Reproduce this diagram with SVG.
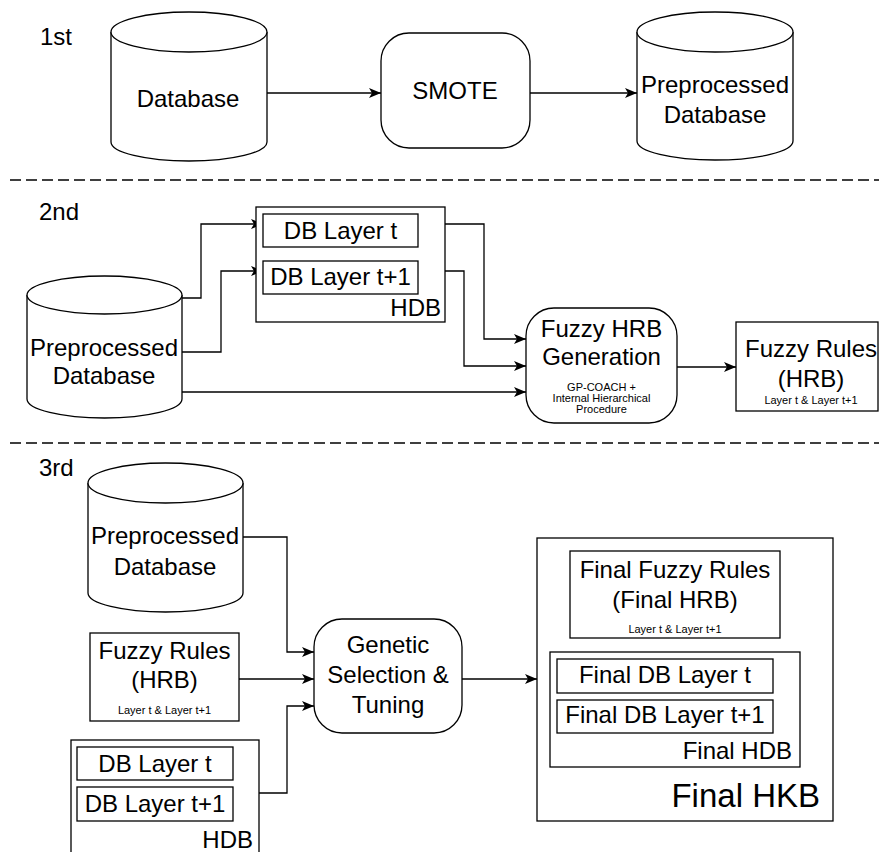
<svg xmlns="http://www.w3.org/2000/svg" width="879" height="852" viewBox="0 0 879 852">
<style>
.s{fill:#fff;stroke:#000;stroke-width:1.3}
.t{font-family:"Liberation Sans",Arial,sans-serif;font-size:24px;fill:#000;text-anchor:middle}
.sm{font-family:"Liberation Sans",Arial,sans-serif;font-size:11px;fill:#000;text-anchor:middle}
.r{text-anchor:end}
.c{fill:none;stroke:#000;stroke-width:1.3}
.d{fill:none;stroke:#000;stroke-width:1.5;stroke-dasharray:11 5}
</style>
<defs>
<marker id="a" markerUnits="userSpaceOnUse" markerWidth="13" markerHeight="11" refX="12" refY="5" orient="auto">
<path d="M0,0 L12,5 L0,10 L3,5 z" fill="#000"/>
</marker>
</defs>
<rect width="879" height="852" fill="#fff"/>
<g id="separators">
<line class="d" x1="10" y1="180" x2="879" y2="180"/>
<line class="d" x1="10" y1="443" x2="879" y2="443"/>
</g>
<g id="labels">
<text class="t" x="40" y="45" style="text-anchor:start">1st</text>
<text class="t" x="39" y="220" style="text-anchor:start">2nd</text>
<text class="t" x="39" y="476" style="text-anchor:start">3rd</text>
</g>
<g id="connectors">
<path class="c" d="M267,93 L381,93" marker-end="url(#a)"/>
<path class="c" d="M530,93 L637,93" marker-end="url(#a)"/>
<path class="c" d="M182,298 L201,298 L201,224 L263,224" marker-end="url(#a)"/>
<path class="c" d="M182,352 L221,352 L221,271 L263,271" marker-end="url(#a)"/>
<path class="c" d="M182,392 L526,392" marker-end="url(#a)"/>
<path class="c" d="M418,224 L484,224 L484,339 L526,339" marker-end="url(#a)"/>
<path class="c" d="M418,271 L464,271 L464,366 L526,366" marker-end="url(#a)"/>
<path class="c" d="M677,367 L736,367" marker-end="url(#a)"/>
<path class="c" d="M243,537 L287,537 L287,652 L314,652" marker-end="url(#a)"/>
<path class="c" d="M239,679 L314,679" marker-end="url(#a)"/>
<path class="c" d="M259,793 L287,793 L287,706 L314,706" marker-end="url(#a)"/>
<path class="c" d="M462,679 L537,679" marker-end="url(#a)"/>
</g>
<g id="database1">
<path class="s" d="M111,32 L111,142 A78,19 0 0 0 267,142 L267,32"/>
<ellipse class="s" cx="189" cy="32" rx="78" ry="20"/>
<text class="t" x="188" y="107">Database</text>
</g>
<g id="smote">
<rect class="s" x="381" y="33" width="149" height="115" rx="28" ry="28"/>
<text class="t" x="455" y="99">SMOTE</text>
</g>
<g id="preprocessed1">
<path class="s" d="M637,32 L637,141 A78,19 0 0 0 793,141 L793,32"/>
<ellipse class="s" cx="715" cy="32" rx="78" ry="20"/>
<text class="t" x="715" y="93">Preprocessed</text>
<text class="t" x="715" y="123">Database</text>
</g>
<g id="preprocessed2">
<path class="s" d="M27,295 L27,399 A77.5,19 0 0 0 182,399 L182,295"/>
<ellipse class="s" cx="104.5" cy="295" rx="77.5" ry="19"/>
<text class="t" x="104" y="356">Preprocessed</text>
<text class="t" x="104" y="384">Database</text>
</g>
<g id="hdb2">
<rect class="s" x="256" y="207" width="189" height="115"/>
<text class="t r" x="441" y="316">HDB</text>
</g>
<g id="dblayert2">
<rect class="s" x="263" y="214" width="155" height="33"/>
<text class="t" x="340.5" y="239">DB Layer t</text>
</g>
<g id="dblayert1_2">
<rect class="s" x="263" y="261" width="155" height="33"/>
<text class="t" x="340.5" y="285">DB Layer t+1</text>
</g>
<g id="fuzzyhrb">
<rect class="s" x="526" y="308" width="151" height="115" rx="28" ry="28"/>
<text class="t" x="601.5" y="337">Fuzzy HRB</text>
<text class="t" x="601.5" y="365">Generation</text>
<text class="sm" x="601.5" y="391">GP-COACH +</text>
<text class="sm" x="601.5" y="402">Internal Hierarchical</text>
<text class="sm" x="601.5" y="413">Procedure</text>
</g>
<g id="fuzzyrules2">
<rect class="s" x="736" y="322" width="142" height="89"/>
<text class="t" x="811" y="357">Fuzzy Rules</text>
<text class="t" x="811" y="387">(HRB)</text>
<text class="sm" x="811" y="404">Layer t &amp; Layer t+1</text>
</g>
<g id="preprocessed3">
<path class="s" d="M88,483 L88,593 A77.5,19 0 0 0 243,593 L243,483"/>
<ellipse class="s" cx="165.5" cy="483" rx="77.5" ry="20"/>
<text class="t" x="165" y="544">Preprocessed</text>
<text class="t" x="165" y="575">Database</text>
</g>
<g id="fuzzyrules3">
<rect class="s" x="90" y="633" width="149" height="88"/>
<text class="t" x="164.5" y="659">Fuzzy Rules</text>
<text class="t" x="164.5" y="688">(HRB)</text>
<text class="sm" x="164.5" y="714">Layer t &amp; Layer t+1</text>
</g>
<g id="hdb3">
<rect class="s" x="71" y="740" width="188" height="130"/>
<text class="t r" x="253" y="848">HDB</text>
</g>
<g id="dblayert3">
<rect class="s" x="77" y="747" width="156" height="33"/>
<text class="t" x="155" y="772">DB Layer t</text>
</g>
<g id="dblayert1_3">
<rect class="s" x="77" y="787" width="156" height="34"/>
<text class="t" x="155" y="812">DB Layer t+1</text>
</g>
<g id="genetic">
<rect class="s" x="314" y="619" width="148" height="114" rx="28" ry="28"/>
<text class="t" x="388" y="653">Genetic</text>
<text class="t" x="388" y="683">Selection &amp;</text>
<text class="t" x="388" y="713">Tuning</text>
</g>
<g id="finalhkb">
<rect class="s" x="537" y="538" width="296" height="283"/>
<text class="t r" x="820" y="807" style="font-size:33px">Final HKB</text>
</g>
<g id="finalfuzzyrules">
<rect class="s" x="570" y="551" width="210" height="87"/>
<text class="t" x="675" y="578">Final Fuzzy Rules</text>
<text class="t" x="675" y="608">(Final HRB)</text>
<text class="sm" x="675" y="633">Layer t &amp; Layer t+1</text>
</g>
<g id="finalhdb">
<rect class="s" x="550" y="652" width="250" height="115"/>
<text class="t r" x="792" y="759">Final HDB</text>
</g>
<g id="finaldblayert">
<rect class="s" x="557" y="659" width="216" height="34"/>
<text class="t" x="665" y="683">Final DB Layer t</text>
</g>
<g id="finaldblayert1">
<rect class="s" x="557" y="700" width="216" height="33"/>
<text class="t" x="665" y="723">Final DB Layer t+1</text>
</g>
</svg>
